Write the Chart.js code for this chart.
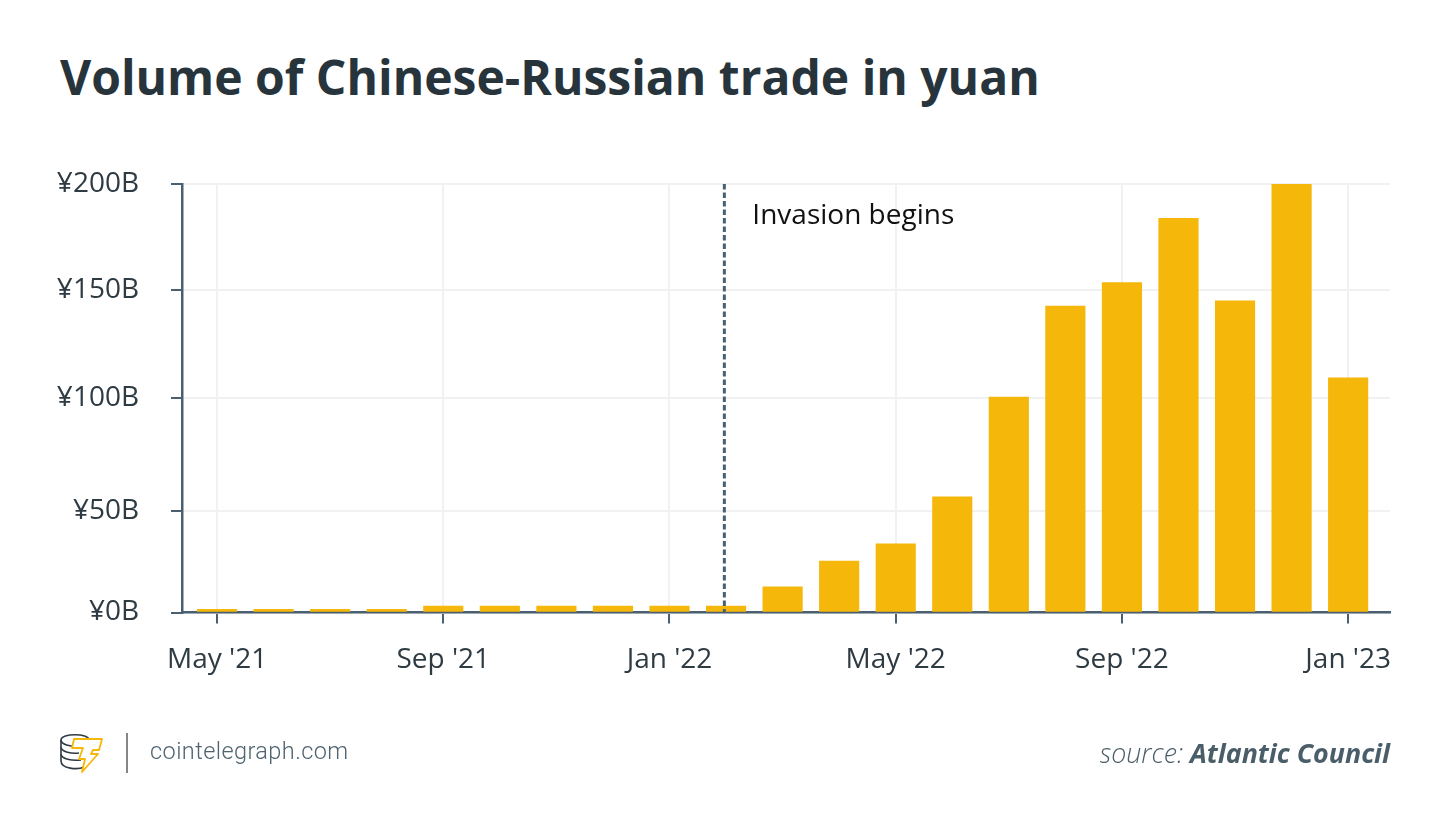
<!DOCTYPE html>
<html>
<head>
<meta charset="utf-8">
<title>Volume of Chinese-Russian trade in yuan</title>
<script src="https://cdn.jsdelivr.net/npm/chart.js@4"></script>
<style>
  html, body { margin: 0; padding: 0; background: #fff; }
  #wrap { position: relative; width: 1450px; height: 833px; overflow: hidden; }
  #chart { position: absolute; left: 0; top: 0; }
  #title { position: absolute; left: 60px; top: 44px; font: 700 48px "Open Sans", sans-serif; color: #28343c; white-space: nowrap; }
  #site { position: absolute; left: 150px; top: 737px; font: 300 23.5px Roboto, sans-serif; color: #4f6370; white-space: nowrap; letter-spacing: 0.42px; }
  #source { position: absolute; right: 60px; top: 734px; font: italic 300 26.8px "Open Sans", sans-serif; color: #4a5e6a; white-space: nowrap; }
  #source b { font-weight: 700; }
  #logo { position: absolute; left: 58px; top: 730px; }
</style>
</head>
<body>
<div id="wrap">
  <div id="title">Volume of Chinese-Russian trade in yuan</div>
  <canvas id="chart" width="1450" height="833"></canvas>
  <svg id="logo" width="80" height="46" viewBox="0 0 80 46">
    <g fill="none" stroke="#2f3b43" stroke-width="1.6">
      <path d="M3 10 C3 3 31 3 31 10"/>
      <path d="M3 10 V31 C3 39 20 40 26 37"/>
      <path d="M3 10 C3 15 14 17 22 16"/>
      <path d="M3 17 C3 22 14 24 21 23"/>
      <path d="M3 24 C3 29 14 31 23 30"/>
    </g>
    <path d="M16 9 H44 L41 20 H35 L33 24 H40 L24 42 L27 29 H21 L25 18 H14 Z" fill="#fff" stroke="#f5b70a" stroke-width="1.8" stroke-linejoin="round"/>
    <line x1="69" y1="3" x2="69" y2="43" stroke="#868686" stroke-width="2"/>
  </svg>
  <div id="site">cointelegraph.com</div>
  <div id="source">source: <b>Atlantic Council</b></div>
</div>
<script>
const months = ["May '21", "Jun '21", "Jul '21", "Aug '21", "Sep '21", "Oct '21", "Nov '21", "Dec '21", "Jan '22", "Feb '22", "Mar '22", "Apr '22", "May '22", "Jun '22", "Jul '22", "Aug '22", "Sep '22", "Oct '22", "Nov '22", "Dec '22", "Jan '23"];
const volume = [1.5, 1.5, 1.5, 1.5, 3, 3, 3, 3, 3, 3, 12, 24, 32, 54, 100.5, 143, 154, 184, 145.5, 200, 109.5];
const xTickIndexes = [0, 4, 8, 12, 16, 20];
// the source picture has its 50 and 150 gridlines slightly off the even spacing
const yTicks = [0, 47.5, 100, 150.5, 200];
const yTickLabels = ['¥0B', '¥50B', '¥100B', '¥150B', '¥200B'];
const invasionIndex = 8.97;
const invasionLabel = "Invasion begins";

const axisColor = '#4a6070';
const gridColor = '#f1f1f1';
const textColor = '#2f3b43';

// dashed line and its label
const invasionPlugin = {
    id: 'invasion',
    afterDatasetsDraw: function (chart) {
        const c = chart.ctx;
        const x = chart.scales.x.getPixelForValue(invasionIndex);
        const top = chart.scales.y.getPixelForValue(200);
        const bottom = chart.scales.y.getPixelForValue(0);
        c.save();
        c.strokeStyle = axisColor;
        c.lineWidth = 3;
        c.setLineDash([5.5, 3]);
        c.beginPath();
        c.moveTo(x, top);
        c.lineTo(x, bottom);
        c.stroke();
        c.setLineDash([]);
        c.fillStyle = '#111';
        c.font = '28px "Open Sans"';
        c.textBaseline = 'middle';
        c.fillText(invasionLabel, x + 28, top + 32);
        c.restore();
    }
};

const chart = new Chart(document.getElementById('chart').getContext('2d'), {
    type: 'bar',
    data: {
        datasets: [{
            data: volume.map(function (v, i) { return { x: i, y: v }; }),
            backgroundColor: '#f5b70a',
            barThickness: 39.5,
            borderWidth: 0
        }]
    },
    options: {
        responsive: false,
        animation: false,
        layout: { padding: { left: 0, right: 60, top: 184, bottom: 140 } },
        plugins: { legend: { display: false }, tooltip: { enabled: false } },
        scales: {
            x: {
                type: 'linear',
                offset: false,
                min: -0.62,
                max: 20.74,
                afterBuildTicks: function (axis) {
                    axis.ticks = xTickIndexes.map(function (i) { return { value: i }; });
                },
                afterFit: function (axis) { axis.height = 80.5; },
                border: { color: axisColor, width: 2.5 },
                grid: { offset: false, color: gridColor, lineWidth: 2, tickColor: axisColor, tickLength: 11 },
                ticks: {
                    autoSkip: false,
                    maxRotation: 0,
                    padding: 20,
                    color: textColor,
                    font: { family: 'Open Sans', size: 28 },
                    callback: function (v) { return months[v]; }
                }
            },
            y: {
                min: 0,
                max: 200,
                afterBuildTicks: function (axis) {
                    axis.ticks = yTicks.map(function (v) { return { value: v }; });
                },
                afterFit: function (axis) { axis.width = 182; },
                border: { color: axisColor, width: 2.5 },
                grid: { color: gridColor, lineWidth: 2, tickColor: axisColor, tickLength: 11 },
                ticks: {
                    padding: 32,
                    color: textColor,
                    font: { family: 'Open Sans', size: 28 },
                    callback: function (v) { return yTickLabels[yTicks.indexOf(v)]; }
                }
            }
        }
    },
    plugins: [invasionPlugin]
});
</script>
</body>
</html>
